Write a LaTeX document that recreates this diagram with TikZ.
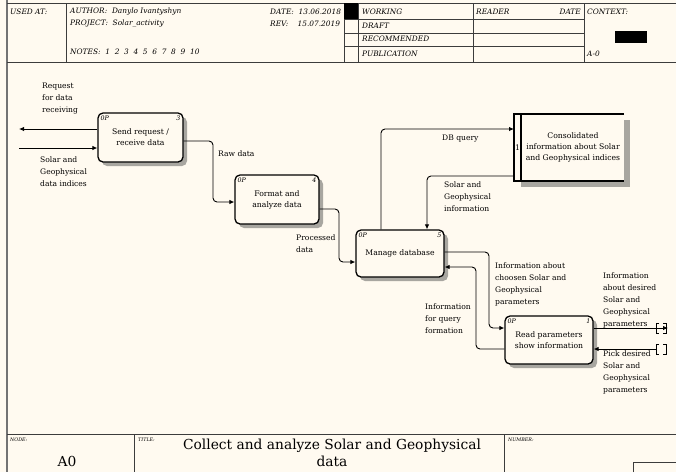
\documentclass[tikz,border=0pt]{standalone}
\usepackage{fontspec}
\setmainfont{DejaVu Serif}
\usetikzlibrary{arrows.meta,patterns,shadows,calc}
\definecolor{bg}{RGB}{255,250,240}
\definecolor{frame}{RGB}{60,60,60}
\definecolor{shade}{RGB}{168,166,160}
\newcommand\boxfont{\fontsize{7.7}{11}\selectfont}
\newcommand\lblfont{\fontsize{7.6}{11.8}\selectfont}
\newcommand\hdrfont{\fontsize{7.4}{8}\selectfont\itshape}
\newcommand\tinyfont{\fontsize{4.8}{6}\selectfont\itshape}
\newcommand\cornerfont{\fontsize{6.3}{6}\selectfont\itshape}
\newcommand\ttlfont{\fontsize{13.8}{17}\selectfont}
\begin{document}
\begin{tikzpicture}[x=1pt,y=-1pt,
  act/.style={draw,line width=1.3pt,rounded corners=5pt,fill=bg,align=center,font=\boxfont,inner sep=0pt,
    drop shadow={shadow xshift=4pt,shadow yshift=-4pt,opacity=1,fill=shade}},
  lbl/.style={font=\lblfont,align=left,inner sep=0pt,anchor=north west},
  hdr/.style={font=\hdrfont,inner sep=0pt,anchor=west},
  tny/.style={font=\tinyfont,inner sep=0pt,anchor=north west},
  crn/.style={font=\cornerfont,inner sep=0pt},
  flow/.style={line width=0.9pt,rounded corners=4pt,-{Latex[length=5pt,width=4.5pt]}},
  hline/.style={draw=frame,line width=0.8pt},
  hatch/.style={fill=shade},
  tun/.style={line width=0.7pt}
]
\useasboundingbox (0,0) rectangle (676,472);
\fill[bg] (0,0) rectangle (676,472);

% ---------- frame / header ----------
\draw[draw=black!55,line width=1.6pt] (7,0) -- (7,472);
\draw[hline] (7,3) -- (676,3);
\draw[hline] (7,62) -- (676,62);
\draw[hline] (66,3) -- (66,62);
\draw[hline] (344,3) -- (344,62);
\draw[hline] (358,3) -- (358,62);
\draw[hline] (473,3) -- (473,62);
\draw[hline] (584,3) -- (584,62);
\draw[hline] (344,19) -- (584,19);
\draw[hline] (344,33) -- (584,33);
\draw[hline] (344,46) -- (584,46);
\fill[black] (344,3) rectangle (358,19);
\fill[black] (615,31) rectangle (647,43);

\node[hdr] (usedat) at (10,12) {USED AT:};
\node[hdr] (author) at (70,12) {AUTHOR:\ \ Danylo Ivantyshyn};
\node[hdr] (project) at (70,24) {PROJECT:\ \ Solar\_activity};
\node[hdr] (notes) at (70,52) {NOTES:\ \ 1\ \ 2\ \ 3\ \ 4\ \ 5\ \ 6\ \ 7\ \ 8\ \ 9\ \ 10};
\node[hdr] (date) at (270,12) {DATE:\ \ 13.06.2018};
\node[hdr] (rev) at (270,24) {REV:\ \ \ \ 15.07.2019};
\node[hdr] (working) at (362,12) {WORKING};
\node[hdr] (draft) at (362,25.5) {DRAFT};
\node[hdr] (recom) at (362,39) {RECOMMENDED};
\node[hdr] (publ) at (362,53.5) {PUBLICATION};
\node[hdr] (reader) at (476,12) {READER};
\node[hdr,anchor=east] (rdate) at (581,12) {DATE};
\node[hdr] (context) at (587,12) {CONTEXT:};
\node[hdr] (azero) at (587,54) {A-0};

% ---------- footer ----------
\draw[hline] (7,434) -- (676,434);
\draw[hline] (134,434) -- (134,472);
\draw[hline] (504,434) -- (504,472);
\draw[draw=frame,line width=1pt] (633,472) -- (633,462) -- (676,462);
\node[tny] (nodelbl) at (10,438) {NODE:};
\node[tny] (titlelbl) at (138,438) {TITLE:};
\node[tny] (numlbl) at (508,438) {NUMBER:};
\node[font=\ttlfont,inner sep=0pt] (a0) at (67,461) {A0};
\node[font=\ttlfont,align=center,inner sep=0pt] (title) at (332,452.5) {Collect and analyze Solar and Geophysical\\data};

% ---------- activity boxes ----------
\node[act,minimum width=85pt,minimum height=49pt] (b3) at (140.5,137.5) {Send request /\\receive data};
\node[act,minimum width=84pt,minimum height=49pt] (b4) at (277,199.5) {Format and\\analyze data};
\node[act,minimum width=88pt,minimum height=47pt] (b5) at (400,253.5) {Manage database};
\node[act,minimum width=88pt,minimum height=48pt] (b1) at (549,340) {Read parameters\\show information};

\node[crn,anchor=north west] (b3op) at ($(b3.north west)+(3,3)$) {0P};
\node[crn,anchor=north east] (b3n) at ($(b3.north east)+(-3,3)$) {3};
\node[crn,anchor=north west] (b4op) at ($(b4.north west)+(3,3)$) {0P};
\node[crn,anchor=north east] (b4n) at ($(b4.north east)+(-3,3)$) {4};
\node[crn,anchor=north west] (b5op) at ($(b5.north west)+(3,3)$) {0P};
\node[crn,anchor=north east] (b5n) at ($(b5.north east)+(-3,3)$) {5};
\node[crn,anchor=north west] (b1op) at ($(b1.north west)+(3,3)$) {0P};
\node[crn,anchor=north east] (b1n) at ($(b1.north east)+(-3,3)$) {1};

% ---------- data store ----------
\node[minimum width=110pt,minimum height=67pt,inner sep=0pt,outer sep=0pt] (ds) at (569,147.5) {};
\fill[hatch] ($(ds.north east)+(0,6)$) rectangle ($(ds.south east)+(6,6)$);
\fill[hatch] ($(ds.south west)+(7,0)$) rectangle ($(ds.south east)+(6,6)$);
\fill[bg] (ds.north west) rectangle (ds.south east);
\draw[line width=1.3pt] (ds.north east) -- (ds.north west) -- (ds.south west) -- (ds.south east);
\draw[line width=1.3pt] ($(ds.north west)+(7,0)$) -- ($(ds.south west)+(7,0)$);
\node[font=\boxfont,align=center,inner sep=0pt] (dstext) at (573,147.5) {Consolidated\\information about Solar\\and Geophysical indices};
\node[font=\boxfont,inner sep=0pt] (dsnum) at (517.5,147.5) {1};

% ---------- free ends ----------
\coordinate (o1) at (19,129);
\coordinate (i2) at (19,148);
\coordinate (o9) at (668,328);
\coordinate (i10) at (657,349);

% ---------- flows ----------
\draw[flow] (b3.west |- 0,129) -- (o1);
\draw[flow] (i2) -- (b3.west |- 0,148);
\draw[flow] (b3.east |- 0,141) -- (213,141) -- (213,202) -- (b4.west |- 0,202);
\draw[flow] (b4.east |- 0,209) -- (339,209) -- (339,262) -- (b5.west |- 0,262);
\draw[flow] (b5.north -| 381,0) -- (381,129) -- (ds.west |- 0,129);
\draw[flow] (ds.west |- 0,176) -- (427,176) -- (b5.north -| 427,0);
\draw[flow] (b5.east |- 0,252) -- (489,252) -- (489,328) -- (b1.west |- 0,328);
\draw[flow] (b1.west |- 0,349) -- (476,349) -- (476,267) -- (b5.east |- 0,267);
\draw[flow] (b1.east |- 0,328) -- (o9);
\draw[flow] (i10) -- (b1.east |- 0,349);

% tunnel brackets
\draw[tun] (659,323) -- (656,323) -- (656,333) -- (659,333);
\draw[tun] (663,323) -- (666,323) -- (666,333) -- (663,333);
\draw[tun] (659,344) -- (656,344) -- (656,354) -- (659,354);
\draw[tun] (663,344) -- (666,344) -- (666,354) -- (663,354);

% ---------- flow labels ----------
\node[lbl] (l1) at (42,83) {Request\\for data\\receiving};
\node[lbl] (l2) at (40,157) {Solar and\\Geophysical\\data indices};
\node[lbl] (l3) at (218,151) {Raw data};
\node[lbl] (l4) at (296,235) {Processed\\data};
\node[lbl] (l5) at (442,135) {DB query};
\node[lbl] (l6) at (444,182) {Solar and\\Geophysical\\information};
\node[lbl] (l7) at (495,263) {Information about\\choosen Solar and\\Geophysical\\parameters};
\node[lbl] (l8) at (425,304) {Information\\for query\\formation};
\node[lbl] (l9) at (603,273) {Information\\about desired\\Solar and\\Geophysical\\parameters};
\node[lbl] (l10) at (603,351) {Pick desired\\Solar and\\Geophysical\\parameters};
\end{tikzpicture}
\end{document}
